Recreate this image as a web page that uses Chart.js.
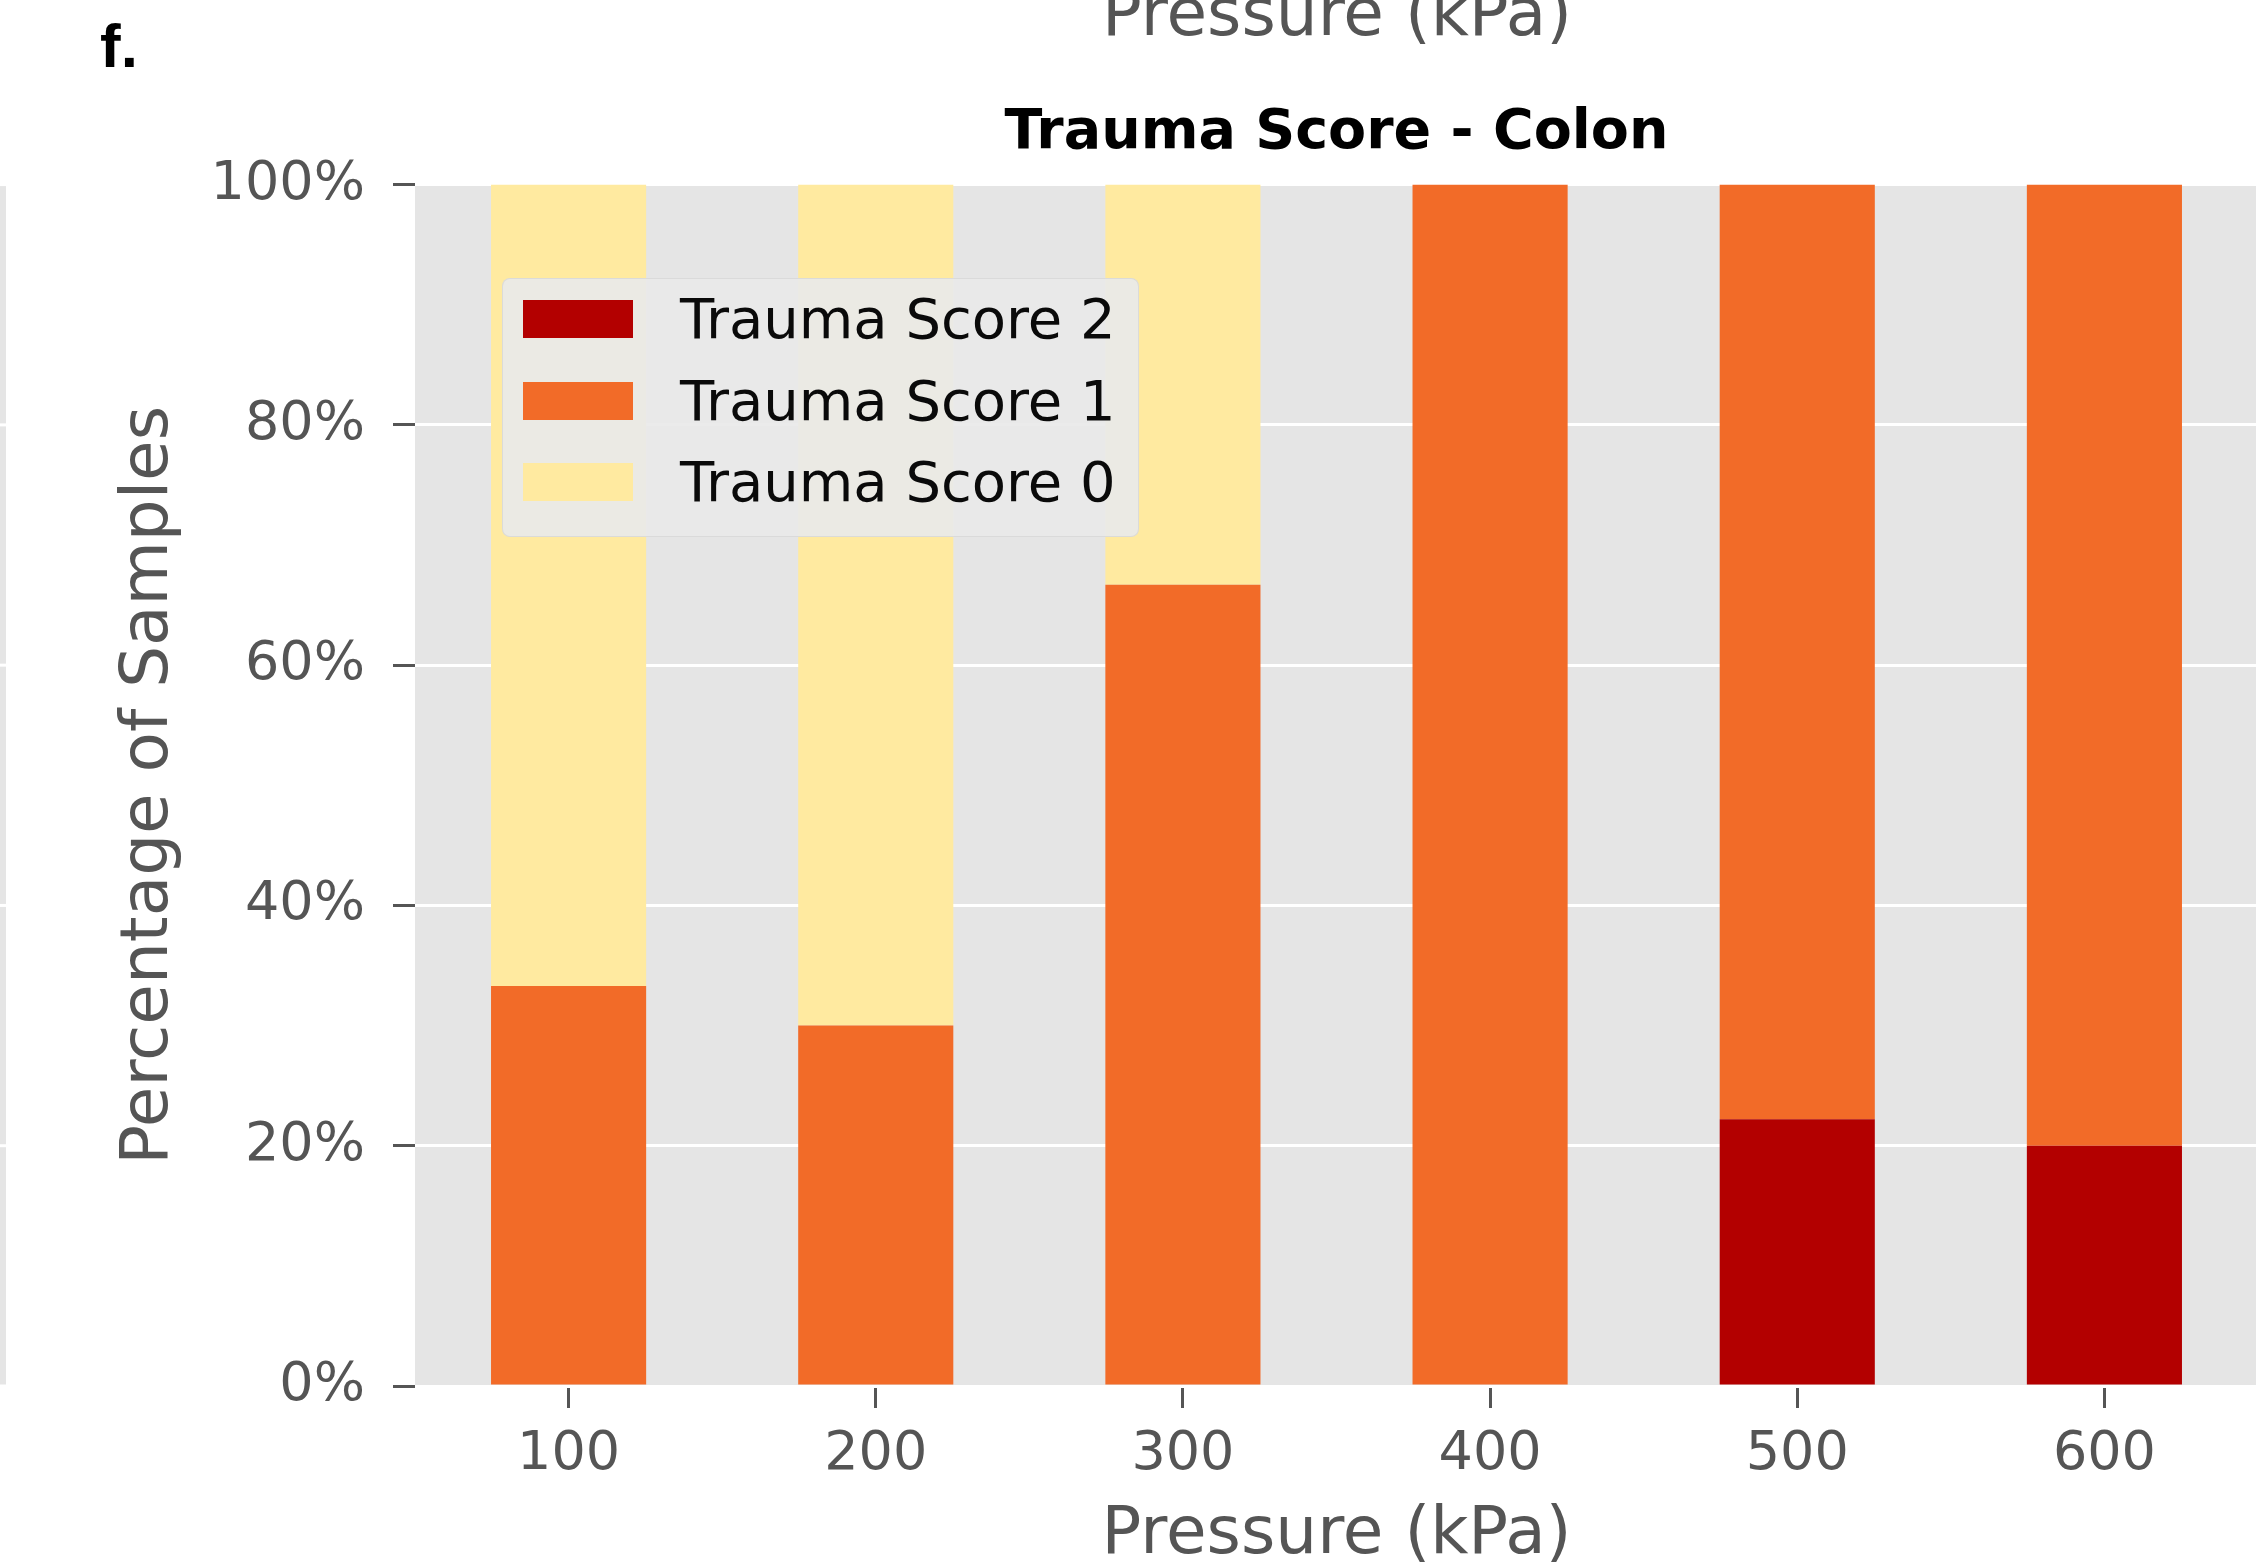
<!DOCTYPE html>
<html><head><meta charset="utf-8">
<script src="https://cdn.jsdelivr.net/npm/chart.js@4/dist/chart.umd.min.js"></script>
<style>
html,body{margin:0;padding:0;overflow:hidden;background:#fff;width:2256px;height:1566px;}
#wrap{position:absolute;left:0;top:0;width:2258px;height:1576px;}
#legend{position:absolute;left:502px;top:278px;width:637px;height:259px;box-sizing:border-box;background:rgba(234,234,234,0.93);border:1px solid rgba(204,204,204,0.5);border-radius:8px;font-family:"DejaVu Sans";}
.row{position:absolute;left:20px;height:38px;}
.sw{position:absolute;left:0;top:0;width:110px;height:38px;}
.lab{position:absolute;left:157px;top:0;line-height:38px;font-size:56px;color:#0a0a0a;white-space:nowrap;}
</style></head>
<body>
<div id="wrap"><canvas id="c" width="2258" height="1576"></canvas><div id="legend"></div></div>
<script>
const categories = ['100', '200', '300', '400', '500', '600'];
const seriesNames = ['Trauma Score 2', 'Trauma Score 1', 'Trauma Score 0'];
const score2 = [0, 0, 0, 0, 22.2, 20];
const score1 = [33.3, 30, 66.7, 100, 77.8, 80];
const score0 = [66.7, 70, 33.3, 0, 0, 0];
const yTicks = [0, 20, 40, 60, 80, 100];
const colors = ['#b30000', '#f26b28', '#ffeaa0'];
const seriesValues = [score2, score1, score0];

const FONT = 'DejaVu Sans';

const bgPlugin = {
  id: 'bg',
  beforeDraw(chart) {
    const {ctx, chartArea: a, scales} = chart;
    ctx.save();
    ctx.fillStyle = '#e5e5e5';
    ctx.fillRect(a.left, a.top, a.right - a.left, a.bottom - a.top);
    // neighbouring panel's plot edge at far left
    ctx.fillRect(0, a.top, 6, a.bottom - a.top);
    ctx.strokeStyle = '#ffffff';
    ctx.lineWidth = 3;
    yTicks.forEach(v => {
      const y = scales.y.getPixelForValue(v);
      ctx.beginPath(); ctx.moveTo(0, y); ctx.lineTo(6, y); ctx.stroke();
    });
    ctx.restore();
  },
  afterDraw(chart) {
    const {ctx} = chart;
    ctx.save();
    ctx.fillStyle = '#000';
    ctx.font = 'bold 62px "Liberation Sans"';
    ctx.textBaseline = 'alphabetic';
    ctx.textAlign = 'left';
    ctx.fillText('f.', 100, 67);
    ctx.fillStyle = '#555';
    ctx.font = '66px "DejaVu Sans"';
    ctx.textAlign = 'center';
    ctx.fillText('Pressure (kPa)', 1337, 35);
    ctx.restore();
  }
};

const chart = new Chart(document.getElementById('c'), {
  type: 'bar',
  data: {
    labels: categories,
    datasets: seriesNames.map((n, i) => ({
      label: n,
      data: seriesValues[i],
      backgroundColor: colors[i],
      borderWidth: 0,
      barPercentage: 0.505,
      categoryPercentage: 1.0
    }))
  },
  options: {
    responsive: false,
    animation: false,
    devicePixelRatio: 1,
    layout: {padding: 0},
    plugins: {
      legend: {display: false},
      tooltip: {enabled: false},
      title: {
        display: true, text: 'Trauma Score - Colon', fullSize: false, color: '#000',
        font: {family: FONT, size: 55.5, weight: 'bold'},
        padding: {top: 100, bottom: 18}
      }
    },
    scales: {
      x: {
        stacked: true,
        offset: true,
        grid: {display: true, drawOnChartArea: false, offset: false, tickLength: 22, tickColor: '#555', tickWidth: 3},
        border: {display: false},
        ticks: {color: '#555', font: {family: FONT, size: 54}, padding: 15, maxRotation: 0, autoSkip: false},
        title: {display: true, text: 'Pressure (kPa)', color: '#555', font: {family: FONT, size: 66}, padding: {top: 0, bottom: 1}},
        afterFit(s) { s.height = 190; }
      },
      y: {
        stacked: true, min: 0, max: 100,
        afterBuildTicks(s) { s.ticks = yTicks.map(v => ({value: v})); },
        grid: {color: '#ffffff', lineWidth: 3, tickLength: 22, tickColor: '#555', tickWidth: 3},
        border: {display: false},
        ticks: {color: '#555', font: {family: FONT, size: 54}, padding: 28, callback: v => v + '%'},
        title: {display: true, text: 'Percentage of Samples', color: '#555', font: {family: FONT, size: 66}, padding: {top: 110, bottom: 0}},
        afterFit(s) { s.width = 415; }
      }
    }
  },
  plugins: [bgPlugin]
});

// HTML legend built from the chart's datasets
const lg = document.getElementById('legend');
chart.data.datasets.forEach((ds, i) => {
  const row = document.createElement('div');
  row.className = 'row';
  row.style.top = (21 + i * 81.5) + 'px';
  const sw = document.createElement('div');
  sw.className = 'sw';
  sw.style.background = ds.backgroundColor;
  const lab = document.createElement('div');
  lab.className = 'lab';
  lab.textContent = ds.label;
  row.appendChild(sw); row.appendChild(lab);
  lg.appendChild(row);
});
</script>
</body></html>
